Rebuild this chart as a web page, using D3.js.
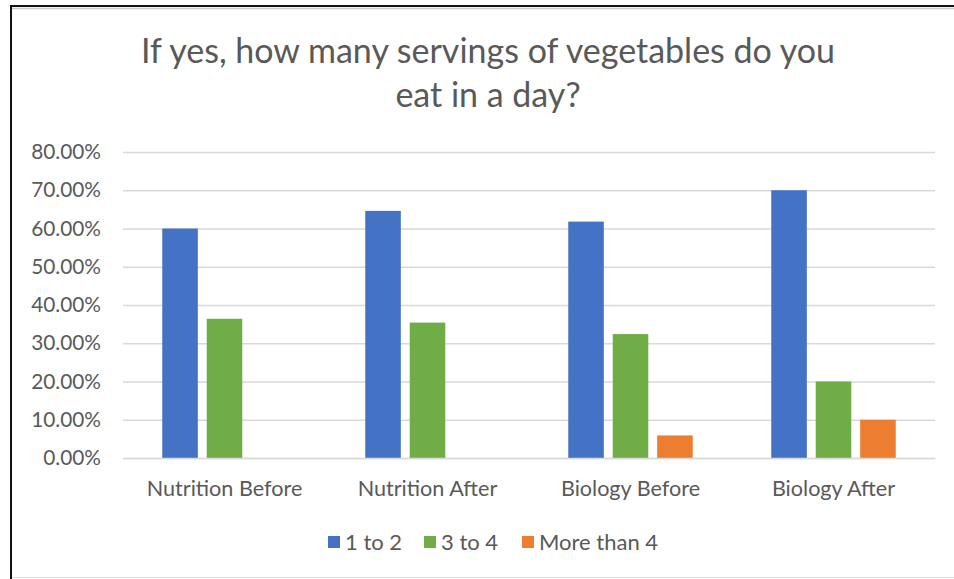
<!DOCTYPE html>
<html>
<head>
<meta charset="utf-8">
<script src="https://cdn.jsdelivr.net/npm/d3@7"></script>
<style>
  body { margin: 0; background: #fff; }
  text { font-family: Lato, "Open Sans", sans-serif; fill: #595959; }
</style>
</head>
<body>
<div id="chart"></div>
<script>
// chart data
var categories = ["Nutrition Before", "Nutrition After", "Biology Before", "Biology After"];
var seriesNames = ["1 to 2", "3 to 4", "More than 4"];
var oneToTwo = [0.60, 0.646, 0.618, 0.70];
var threeToFour = [0.364, 0.354, 0.324, 0.20];
var moreThanFour = [0.0, 0.0, 0.059, 0.10];
var yTicks = [0, 0.1, 0.2, 0.3, 0.4, 0.5, 0.6, 0.7, 0.8];
var colors = ["#4472C4", "#70AD47", "#ED7D31"];

var svgWidth = 954, svgHeight = 579;
var margin = { top: 152, right: 19, bottom: 121, left: 123 };
var chartWidth = svgWidth - margin.left - margin.right;
var chartHeight = svgHeight - margin.top - margin.bottom;

var svg = d3.select("#chart")
    .append("svg")
    .attr("width", svgWidth)
    .attr("height", svgHeight);

// frame around the chart (top/left dark, bottom light)
svg.append("line").attr("x1", 11).attr("x2", 954).attr("y1", 6).attr("y2", 6)
    .attr("stroke", "#111").attr("stroke-width", 2);
svg.append("line").attr("x1", 11).attr("x2", 954).attr("y1", 8.5).attr("y2", 8.5)
    .attr("stroke", "#ccc").attr("stroke-width", 1.5);
svg.append("line").attr("x1", 11).attr("x2", 11).attr("y1", 5).attr("y2", 579)
    .attr("stroke", "#111").attr("stroke-width", 2);
svg.append("line").attr("x1", 12).attr("x2", 954).attr("y1", 577.5).attr("y2", 577.5)
    .attr("stroke", "#ddd").attr("stroke-width", 1);

// title
var title = svg.append("text")
    .attr("text-anchor", "middle")
    .style("font-size", "34px");
title.append("tspan").attr("x", 488).attr("y", 63)
    .text("If yes, how many servings of vegetables do you");
title.append("tspan").attr("x", 488).attr("y", 107)
    .text("eat in a day?");

var chartGroup = svg.append("g")
    .attr("transform", `translate(${margin.left}, ${margin.top})`);

var data = categories.map(function(c, i) {
    return { category: c, values: [oneToTwo[i], threeToFour[i], moreThanFour[i]] };
});

var x0 = d3.scaleBand()
    .domain(categories)
    .range([0, chartWidth]);

var groupWidth = 124.5;
var x1 = d3.scaleBand()
    .domain(seriesNames)
    .range([(x0.bandwidth() - groupWidth) / 2, (x0.bandwidth() + groupWidth) / 2])
    .paddingInner(0.2);

var y = d3.scaleLinear()
    .domain([0, 0.8])
    .range([chartHeight, 0]);

// gridlines
var grid = chartGroup.append("g")
    .call(d3.axisLeft(y).tickValues(yTicks).tickSize(-chartWidth).tickFormat(""));
grid.select(".domain").remove();
grid.selectAll("line").attr("stroke", "#d9d9d9").attr("stroke-width", 1.5);

// y labels
var yAxis = chartGroup.append("g")
    .call(d3.axisLeft(y).tickValues(yTicks).tickSize(0).tickPadding(22).tickFormat(d3.format(".2%")));
yAxis.select(".domain").remove();
yAxis.selectAll("text").style("font-size", "20.8px").attr("fill", "#595959");

// bars
var groups = chartGroup.selectAll(".group")
    .data(data)
    .enter()
    .append("g")
    .attr("transform", d => `translate(${x0(d.category)}, 0)`);

groups.selectAll("rect")
    .data(d => d.values.map((v, j) => ({ series: seriesNames[j], value: v, j: j })))
    .enter()
    .append("rect")
    .attr("x", d => x1(d.series))
    .attr("y", d => y(d.value))
    .attr("width", x1.bandwidth())
    .attr("height", d => chartHeight - y(d.value))
    .attr("fill", d => colors[d.j]);

// x axis
var xAxis = chartGroup.append("g")
    .attr("transform", `translate(0, ${chartHeight})`)
    .call(d3.axisBottom(x0).tickSize(0).tickPadding(23));
xAxis.select(".domain").attr("stroke", "#d9d9d9").attr("stroke-width", 1.5);
xAxis.selectAll("text").style("font-size", "21.6px").attr("fill", "#595959");

// legend
var legendX = [328, 424, 522];
var legend = svg.selectAll(".legend")
    .data(seriesNames)
    .enter()
    .append("g")
    .attr("transform", (d, i) => `translate(${legendX[i]}, 542)`);
legend.append("rect")
    .attr("x", 0).attr("y", -6)
    .attr("width", 12).attr("height", 12)
    .attr("fill", (d, i) => colors[i]);
legend.append("text")
    .attr("x", 17).attr("y", 0)
    .attr("dy", "0.36em")
    .style("font-size", "22px")
    .text(d => d);
</script>
</body>
</html>
